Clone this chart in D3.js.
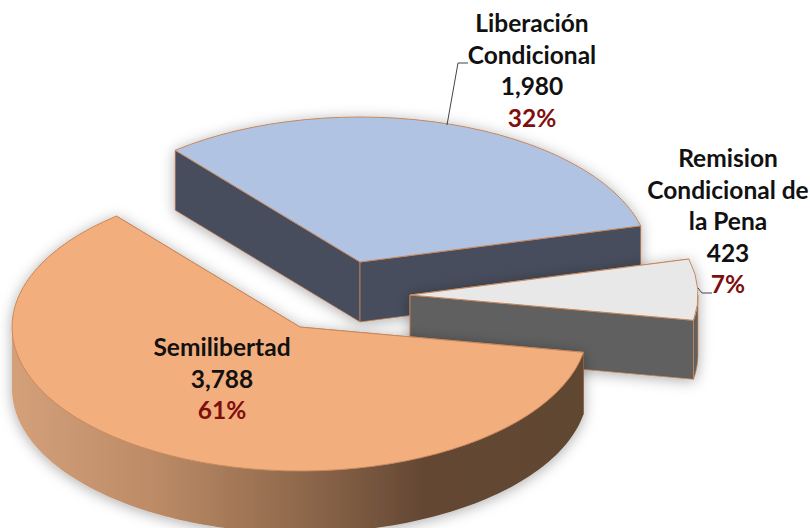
<!DOCTYPE html>
<html>
<head>
<meta charset="utf-8">
<script src="https://cdn.jsdelivr.net/npm/d3@7/dist/d3.min.js"></script>
<style>
html,body{margin:0;padding:0;background:#fff;}
svg{display:block;}
text{font-family:Lato,"Open Sans",sans-serif;font-weight:700;font-size:24.5px;text-anchor:middle;}
</style>
</head>
<body>
<svg id="chart" width="810" height="528"></svg>
<script>
const categories = ["Liberación Condicional", "Remision Condicional de la Pena", "Semilibertad"];
const values = [1980, 423, 3788];
const percents = ["32%", "7%", "61%"];
const topColors = ["#b0c3e3", "#e8e8e8", "#f3ae7d"];
const wallColors = ["#474d5c", "#606060", "url(#wallGrad)"];

const labelLines = [["Liberación", "Condicional", "1,980"], ["Remision", "Condicional de", "la Pena", "423"], ["Semilibertad", "3,788"]];

// Layout
const sliceLayout = [
  {cx: 360, cy: 262, r: 290, depth: 60},
  {cx: 410, cy: 295, r: 288, depth: 59},
  {cx: 300, cy: 327, r: 288, depth: 62}
];
const tilt = 0.5;
const labelLayout = [
  {x: 532, y: 32, step: 31.7},
  {x: 728, y: 167, step: 31.6},
  {x: 222, y: 356, step: 31.5}
];
const leaders = [
  [[447,125],[458,63],[468,63]],
  [[698,288],[702,293],[712,293]]
];

const svg = d3.select("#chart");
const defs = svg.append("defs");
const grad = defs.append("linearGradient").attr("id","wallGrad")
  .attr("gradientUnits","userSpaceOnUse").attr("x1",12).attr("x2",585).attr("y1",0).attr("y2",0);
[[0,"#d3a07a"],[0.25,"#bc8b66"],[0.5,"#90694c"],[0.72,"#634733"],[1,"#614630"]]
  .forEach(s => grad.append("stop").attr("offset",s[0]).attr("stop-color",s[1]));
const filt = defs.append("filter").attr("id","shadow")
  .attr("x","-10%").attr("y","-10%").attr("width","120%").attr("height","125%");
filt.append("feDropShadow").attr("dx",0).attr("dy",2).attr("stdDeviation",7)
  .attr("flood-color","#000").attr("flood-opacity",0.32);

const startDeg = -39.6;
const pie = d3.pie().sort(null).value(d => d)
  .startAngle(startDeg * Math.PI / 180)
  .endAngle((startDeg + 360) * Math.PI / 180);
const arcs = pie(values);
const stroke = "#c8875a";

arcs.forEach((a, i) => {
  const L = sliceLayout[i];
  const px = d3.scaleLinear().domain([-1,1]).range([L.cx - L.r, L.cx + L.r]);
  const py = d3.scaleLinear().domain([-1,1]).range([L.cy - L.r * tilt, L.cy + L.r * tilt]);
  const ptX = t => px(Math.sin(t));
  const ptY = t => py(-Math.cos(t));
  const line = d3.line();
  const g = svg.append("g").attr("filter","url(#shadow)");

  // cut walls
  [a.startAngle, a.endAngle].forEach(t => {
    const pts = [[L.cx,L.cy],[ptX(t),ptY(t)],[ptX(t),ptY(t)+L.depth],[L.cx,L.cy+L.depth]];
    g.append("path").attr("d", line(pts)+"Z").attr("fill", wallColors[i])
      .attr("stroke", stroke).attr("stroke-width",0.8).attr("stroke-linejoin","round");
  });

  // outer wall: front-facing part of the rim
  const lo = Math.max(a.startAngle, Math.PI/2), hi = Math.min(a.endAngle, 1.5*Math.PI);
  if (hi > lo) {
    const ts = d3.range(0, 121).map(k => lo + (hi-lo)*k/120);
    const pts = ts.map(t => [ptX(t),ptY(t)]).concat(ts.slice().reverse().map(t => [ptX(t),ptY(t)+L.depth]));
    g.append("path").attr("d", line(pts)+"Z").attr("fill", wallColors[i])
      .attr("stroke", i===2 ? "none" : stroke).attr("stroke-width",0.8);
  }

  // top face
  const arcGen = d3.arc().innerRadius(0).outerRadius(L.r);
  g.append("path").attr("d", arcGen(a))
    .attr("transform", `translate(${L.cx},${L.cy}) scale(1,${tilt})`)
    .attr("fill", topColors[i]).attr("stroke", stroke).attr("stroke-width",1)
    .attr("vector-effect","non-scaling-stroke")
    .style("vector-effect","non-scaling-stroke");
});

// leader lines
leaders.forEach(l => svg.append("path").attr("d", d3.line()(l))
  .attr("fill","none").attr("stroke","#444").attr("stroke-width",1));

// labels
labelLines.forEach((lines, i) => {
  const P = labelLayout[i];
  lines.forEach((t, k) => svg.append("text").attr("x",P.x).attr("y",P.y + k*P.step).attr("fill","#111").text(t));
  svg.append("text").attr("x",P.x).attr("y",P.y + lines.length*P.step).attr("fill","#7f0f0f").text(percents[i]);
});
</script>
</body>
</html>
